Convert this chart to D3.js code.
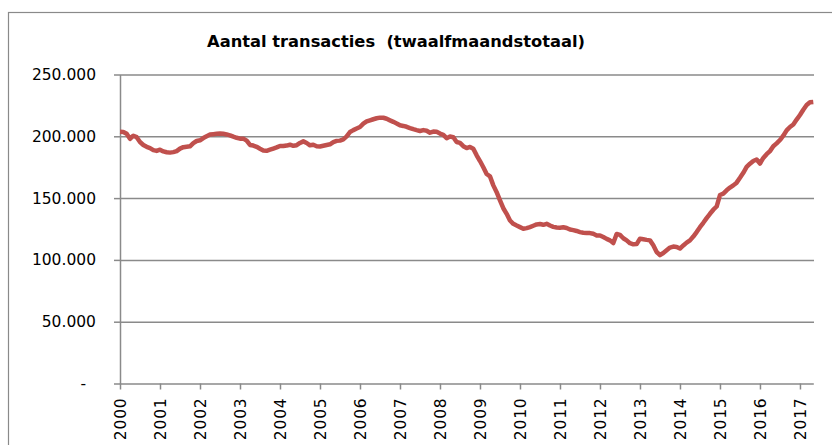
<!DOCTYPE html>
<html>
<head>
<meta charset="utf-8">
<script src="https://cdn.jsdelivr.net/npm/d3@7"></script>
<style>
  body { margin: 0; background: #fff; }
  svg { display: block; }
</style>
</head>
<body>
<svg id="chart"></svg>
<script>

var width = 832;
var height = 445;

// data
var title = "Aantal transacties  (twaalfmaandstotaal)";
var yearLabels = ["2000", "2001", "2002", "2003", "2004", "2005", "2006", "2007", "2008",
                  "2009", "2010", "2011", "2012", "2013", "2014", "2015", "2016", "2017"];
var yTicks = [0, 50000, 100000, 150000, 200000, 250000];

// twaalfmaandstotaal per maand, jan 2000 - mei 2017
var transacties = [
  203600, 203500, 202000, 198000, 200500, 199300, 195400, 193000, 191500, 190500, 188800, 188200, // 2000
  189200, 187800, 187100, 186800, 187200, 188000, 190000, 191200, 191600, 191900, 194500, 196200, // 2001
  196800, 198600, 200100, 201400, 201700, 202000, 202200, 202000, 201500, 200800, 199700, 198800, // 2002
  198100, 198100, 196500, 193000, 192500, 191500, 190000, 188600, 188300, 189200, 190100, 191000, // 2003
  192200, 192100, 192500, 193200, 192300, 192800, 194600, 195900, 194600, 192700, 193200, 192000, // 2004
  191800, 192400, 193000, 193500, 195300, 196300, 196500, 197500, 199900, 203500, 205000, 206300, // 2005
  207500, 210200, 212000, 212900, 213800, 214600, 215100, 215000, 214200, 212900, 211700, 210400, // 2006
  208900, 208400, 207700, 206700, 205800, 205000, 204300, 205000, 204500, 202900, 203800, 203600, // 2007
  202200, 201200, 198500, 199800, 199300, 195400, 194700, 192000, 190500, 191400, 190000, 184600, // 2008
  180000, 175000, 169500, 167600, 160300, 154800, 148200, 141800, 137300, 131900, 129200, 127800, // 2009
  126500, 125200, 125700, 126500, 127600, 128700, 129000, 128400, 129200, 127800, 126700, 126200, // 2010
  126100, 126400, 125800, 124600, 124100, 123400, 122500, 122000, 121700, 121700, 121100, 119800, // 2011
  119800, 118500, 117000, 115800, 113600, 121000, 120200, 117500, 115800, 113500, 112600, 112800, // 2012
  117200, 116700, 116200, 115800, 111800, 106400, 103900, 105600, 107800, 110000, 110800, 110500, // 2013
  109200, 111700, 114000, 115800, 118900, 122500, 126500, 130000, 133800, 137300, 140600, 143200, // 2014
  152500, 153600, 156300, 158500, 160300, 162500, 166400, 170500, 175200, 177800, 180000, 181200, // 2015
  178000, 182500, 185500, 188000, 192000, 194300, 197000, 200500, 204800, 207500, 209500, 213500, // 2016
  217200, 221500, 225300, 227500, 227800                                                          // 2017
];

var svg = d3.select("#chart")
  .attr("width", width)
  .attr("height", height);

// chart frame (runs off the right and bottom edge)
svg.append("rect")
  .attr("x", 8.5)
  .attr("y", 12.5)
  .attr("width", 900)
  .attr("height", 500)
  .attr("fill", "none")
  .attr("stroke", "#8a8a8a")
  .attr("stroke-width", 1.2);

svg.append("text")
  .attr("x", 396)
  .attr("y", 47)
  .attr("text-anchor", "middle")
  .style("white-space", "pre")
  .style("font-family", "DejaVu Sans")
  .style("font-weight", "bold")
  .style("font-size", "16.3px")
  .attr("fill", "#000")
  .text(title);

var x = d3.scaleLinear()
  .domain([0, transacties.length - 1])
  .range([120, 813.3]);

var y = d3.scaleLinear()
  .domain([0, 250000])
  .range([383.5, 74.5]);

var nl = d3.formatLocale({decimal: ",", thousands: ".", grouping: [3], currency: ["€", ""]});
var fmt = nl.format(",");

// gridlines
var grid = svg.append("g")
  .attr("transform", "translate(120,0)")
  .call(d3.axisLeft(y).tickValues(yTicks.slice(1)).tickSize(-694).tickFormat(""));
grid.select(".domain").remove();
grid.selectAll("line").attr("stroke", "#8a8a8a").attr("stroke-width", 1.5);

// y axis
var yAxis = svg.append("g")
  .attr("transform", "translate(120,0)")
  .call(d3.axisLeft(y).tickValues(yTicks).tickSize(6).tickSizeOuter(0).tickPadding(18)
    .tickFormat(function(d) { return d === 0 ? "-" : fmt(d); }));
yAxis.select(".domain").attr("stroke", "#8a8a8a").attr("stroke-width", 1.5);
yAxis.selectAll("line").attr("stroke", "#8a8a8a").attr("stroke-width", 1.5);
yAxis.selectAll("text")
  .style("font-family", "DejaVu Sans")
  .style("font-size", "15.5px")
  .attr("fill", "#000");
yAxis.selectAll("text").filter(function(d) { return d === 0; }).attr("dx", -10);

// x axis
var xAxis = svg.append("g")
  .attr("transform", "translate(0,383.5)")
  .call(d3.axisBottom(x).tickValues(d3.range(0, transacties.length, 12)).tickSize(6).tickSizeOuter(0)
    .tickFormat(function(d, i) { return yearLabels[i]; }));
xAxis.select(".domain").attr("stroke", "#8a8a8a").attr("stroke-width", 1.5);
xAxis.selectAll("line").attr("stroke", "#8a8a8a").attr("stroke-width", 1.5);
xAxis.selectAll("text")
  .attr("transform", "rotate(-90)")
  .attr("text-anchor", "end")
  .attr("x", -14)
  .attr("y", 0)
  .attr("dy", "0.36em")
  .style("font-family", "DejaVu Sans")
  .style("font-size", "15.5px")
  .style("letter-spacing", "0.8px")
  .attr("fill", "#000");

// line
var line = d3.line()
  .x(function(d, i) { return x(i); })
  .y(function(d) { return y(d); });

svg.append("path")
  .datum(transacties)
  .attr("d", line)
  .attr("fill", "none")
  .attr("stroke", "#C0504D")
  .attr("stroke-width", 4.5)
  .attr("stroke-linejoin", "round");

</script>
</body>
</html>
